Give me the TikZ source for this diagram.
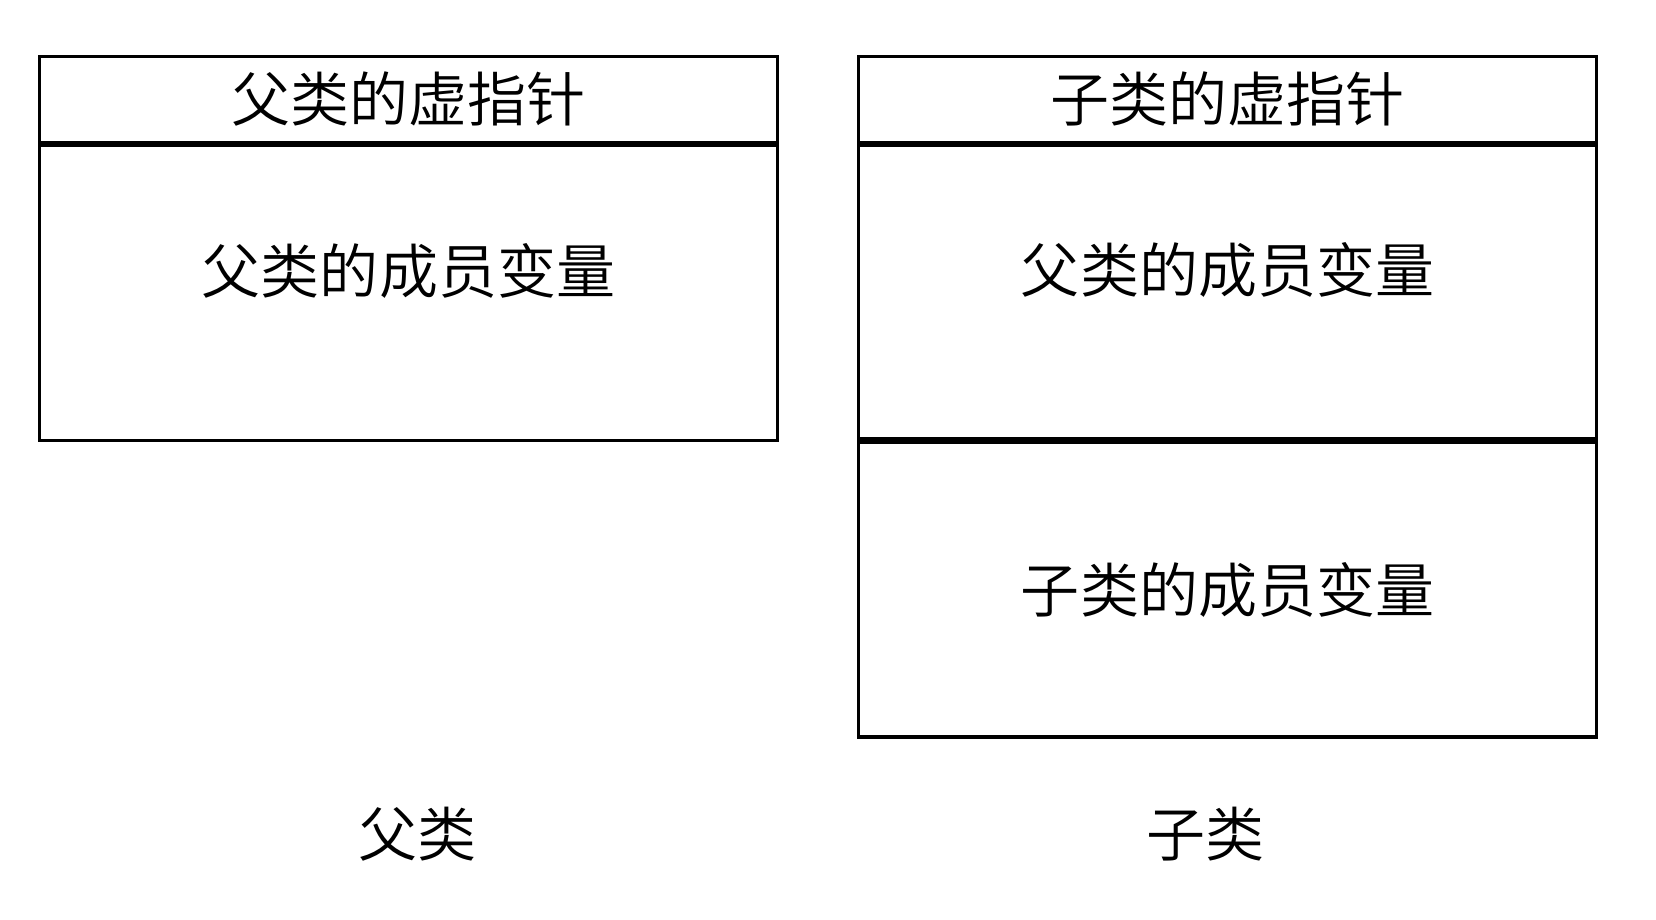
\documentclass[tikz,border=0pt]{standalone}
\usepackage{fontspec}
\newfontfamily\cjk{Noto Sans CJK SC DemiLight}
\usetikzlibrary{positioning}
\begin{document}
\begin{tikzpicture}[x=0.01053cm, y=-0.01053cm,
    every node/.style={font=\cjk\fontsize{16.8pt}{19pt}\selectfont},
    cell/.style={draw, line width=0.95pt, minimum width=7.38cm, inner sep=0pt, anchor=north west},
    memtext/.style={text depth=0.5cm}]
    \useasboundingbox (0,0) rectangle (1573,873);
    % parent
    \node[cell, minimum height=0.86cm] (pvptr) at (36,52) {父类的虚指针};
    \node[cell, memtext, minimum height=2.95cm, below=0pt of pvptr.south west, anchor=north west] (pmem) {父类的成员变量};
    % child
    \node[cell, minimum height=0.86cm] (cvptr) at (814,52) {子类的虚指针};
    \node[cell, memtext, minimum height=2.93cm, below=0pt of cvptr.south west, anchor=north west] (cpmem) {父类的成员变量};
    \node[cell, minimum height=2.95cm, below=0pt of cpmem.south west, anchor=north west] (cmem) {子类的成员变量};
    % captions
    \node (pname) at (397,792) {父类};
    \node (cname) at (1145,792) {子类};
\end{tikzpicture}
\end{document}
